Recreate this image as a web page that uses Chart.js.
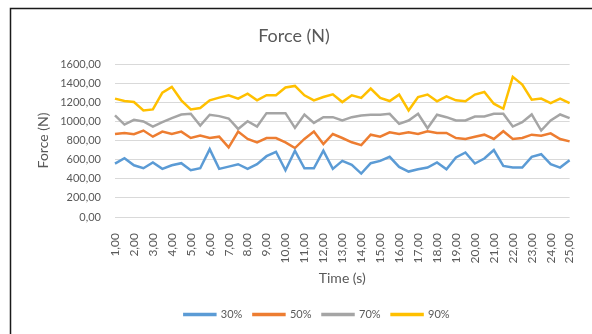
<!DOCTYPE html>
<html>
<head>
<meta charset="utf-8">
<script src="https://cdn.jsdelivr.net/npm/chart.js@4.4.1/dist/chart.umd.min.js"></script>
<style>
  html, body { margin: 0; padding: 0; background: #fff; }
  #wrap { width: 592px; height: 334px; }
</style>
</head>
<body>
<div id="wrap"><canvas id="force-chart"></canvas></div>
<script>
var times = ["1,00", "1,50", "2,00", "2,50", "3,00", "3,50", "4,00", "4,50", "5,00", "5,50",
    "6,00", "6,50", "7,00", "7,50", "8,00", "8,50", "9,00", "9,50", "10,00", "10,50",
    "11,00", "11,50", "12,00", "12,50", "13,00", "13,50", "14,00", "14,50", "15,00", "15,50",
    "16,00", "16,50", "17,00", "17,50", "18,00", "18,50", "19,00", "19,50", "20,00", "20,50",
    "21,00", "21,50", "22,00", "22,50", "23,00", "23,50", "24,00", "24,50", "25,00"];

var force30 = [559, 615, 541, 510, 570, 503, 541, 563, 489, 510, 710, 503, 527, 552, 503, 552, 636, 682, 489, 693,
    510, 510, 693, 503, 587, 545, 454, 563, 587, 629, 524, 475, 499, 517, 570, 499, 622, 675, 559, 612,
    700, 534, 517, 517, 629, 657, 552, 517, 594];
var force50 = [868, 879, 865, 904, 840, 893, 868, 893, 826, 851, 826, 840, 728, 893, 816, 781, 826, 826, 781, 721,
    816, 893, 763, 868, 826, 781, 752, 861, 840, 886, 868, 886, 868, 897, 879, 879, 826, 816, 840, 861,
    816, 897, 816, 826, 861, 851, 875, 816, 791];
var force70 = [1062, 967, 1016, 999, 946, 991, 1034, 1072, 1079, 956, 1069, 1055, 1030, 921, 1002, 946, 1086, 1086, 1086, 932,
    1072, 984, 1044, 1044, 1009, 1044, 1062, 1069, 1069, 1079, 974, 1009, 1079, 928, 1069, 1044, 1009, 1009, 1051, 1051,
    1079, 1079, 946, 991, 1072, 904, 1009, 1072, 1034];
var force90 = [1238, 1213, 1202, 1115, 1125, 1301, 1361, 1220, 1125, 1139, 1220, 1248, 1273, 1238, 1290, 1220, 1273, 1273, 1354, 1371,
    1273, 1220, 1255, 1283, 1202, 1273, 1245, 1343, 1245, 1213, 1280, 1115, 1255, 1280, 1210, 1262, 1220, 1210, 1280, 1308,
    1185, 1132, 1466, 1385, 1227, 1238, 1192, 1238, 1192];

var seriesNames = ["30%", "50%", "70%", "90%"];
var seriesColors = ["#5B9BD5", "#ED7D31", "#A5A5A5", "#FFC000"];
var seriesValues = [force30, force50, force70, force90];

var textColor = "#595959";
var fontName = "Lato";

function makeDataset(i) {
    return {
        label: seriesNames[i],
        data: seriesValues[i],
        borderColor: seriesColors[i],
        backgroundColor: seriesColors[i],
        borderWidth: 2.5,
        pointRadius: 0,
        tension: 0
    };
}

// white background + the dark frame of the excel chart box
var framePlugin = {
    id: 'frame',
    beforeDraw: function (chart) {
        var ctx = chart.ctx;
        ctx.save();
        ctx.fillStyle = "#fff";
        ctx.fillRect(0, 0, chart.width, chart.height);
        ctx.strokeStyle = "#1a1a1a";
        ctx.lineWidth = 1.5;
        ctx.beginPath();
        ctx.moveTo(10.5, chart.height);
        ctx.lineTo(10.5, 8.5);
        ctx.lineTo(chart.width, 8.5);
        ctx.stroke();
        ctx.restore();
    },
    afterLayout: function (chart) {
        // push legend a bit right, like the reference
        chart.legend.left += 23;
        chart.legend.right += 23;
    }
};

var forceChart = new Chart(document.getElementById("force-chart"), {
    type: 'line',
    data: {
        labels: times,
        datasets: [makeDataset(0), makeDataset(1), makeDataset(2), makeDataset(3)]
    },
    options: {
        responsive: true,
        maintainAspectRatio: false,
        animation: false,
        layout: { padding: { left: 10, right: 14, top: 0, bottom: 4 } },
        plugins: {
            title: {
                display: true,
                text: "Force (N)",
                color: textColor,
                font: { family: fontName, size: 18, weight: 'normal' },
                padding: { top: 25, bottom: 17.4 }
            },
            legend: {
                position: 'bottom',
                labels: {
                    color: textColor,
                    font: { family: fontName, size: 11 },
                    boxWidth: 31,
                    boxHeight: 1,
                    padding: 11
                }
            },
            tooltip: { enabled: false }
        },
        scales: {
            x: {
                offset: false,
                grid: { display: false },
                border: { display: false },
                ticks: {
                    autoSkip: false,
                    maxRotation: 90,
                    minRotation: 90,
                    padding: 8,
                    color: textColor,
                    font: { family: fontName, size: 12 },
                    callback: function (value, index) {
                        return index % 2 === 0 ? times[index] : "";
                    }
                },
                title: {
                    display: true,
                    text: "Time (s)",
                    color: textColor,
                    font: { family: fontName, size: 14 },
                    padding: { top: 0, bottom: 11 }
                },
                afterFit: function (scale) { scale.height = 81; }
            },
            y: {
                min: 0,
                max: 1600,
                grid: { color: "#D9D9D9", drawTicks: false },
                border: { display: false },
                ticks: {
                    stepSize: 200,
                    padding: 14,
                    color: textColor,
                    font: { family: fontName, size: 11 },
                    callback: function (value) {
                        return value.toFixed(2).replace(".", ",");
                    }
                },
                title: {
                    display: true,
                    text: "Force (N)",
                    color: textColor,
                    font: { family: fontName, size: 14 },
                    padding: { top: 25, bottom: 0 }
                },
                afterFit: function (scale) { scale.width = 105; }
            }
        }
    },
    plugins: [framePlugin]
});
</script>
</body>
</html>
